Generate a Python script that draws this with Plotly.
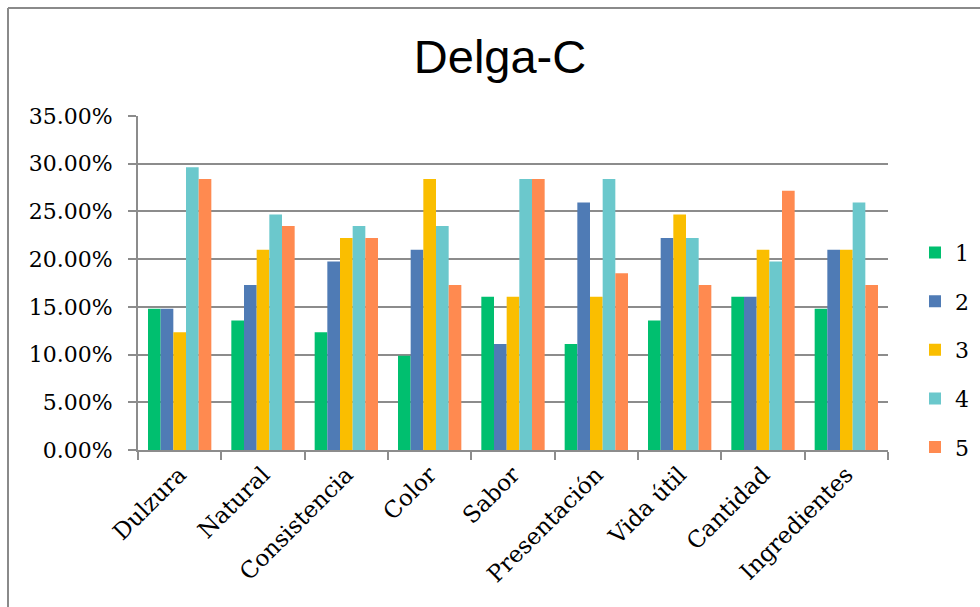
import plotly.graph_objects as go

categories = ["Dulzura", "Natural", "Consistencia", "Color", "Sabor",
              "Presentación", "Vida útil", "Cantidad", "Ingredientes"]
series_names = ["1", "2", "3", "4", "5"]

# shares of responses per rating (1-5) for each attribute
s1 = [0.1481, 0.1358, 0.1235, 0.0988, 0.1605, 0.1111, 0.1358, 0.1605, 0.1481]
s2 = [0.1481, 0.1728, 0.1975, 0.2099, 0.1111, 0.2593, 0.2222, 0.1605, 0.2099]
s3 = [0.1235, 0.2099, 0.2222, 0.2840, 0.1605, 0.1605, 0.2469, 0.2099, 0.2099]
s4 = [0.2963, 0.2469, 0.2346, 0.2346, 0.2840, 0.2840, 0.2222, 0.1975, 0.2593]
s5 = [0.2840, 0.2346, 0.2222, 0.1728, 0.2840, 0.1852, 0.1728, 0.2716, 0.1728]
series_values = [s1, s2, s3, s4, s5]
colors = ["#00BF6F", "#4F7BB5", "#FABE00", "#6BC8CC", "#FF8A50"]
y_ticks = [0, 0.05, 0.10, 0.15, 0.20, 0.25, 0.30, 0.35]

serif = "DejaVu Serif"
grid = "#8c8c8c"

fig = go.Figure()
for name, vals, col in zip(series_names, series_values, colors):
    fig.add_trace(go.Bar(
        x=categories, y=vals, name=name, legendgroup=name,
        marker=dict(color=col, line=dict(width=0)),
    ))

W, H = 980, 607
ml, mr, mt, mb = 138, 92, 116, 157
pw, ph = W - ml - mr, H - mt - mb

fig.update_layout(
    width=W, height=H,
    margin=dict(l=ml, r=mr, t=mt, b=mb, autoexpand=False),
    paper_bgcolor="white", plot_bgcolor="white",
    barmode="group", bargap=0.24, bargroupgap=0,
    title=dict(text="Delga-C", x=500 / W, xanchor="center", xref="container",
               y=1 - 57 / H, yanchor="middle",
               font=dict(family="Liberation Sans", size=47, color="black")),
    font=dict(family=serif, size=21, color="black"),
    legend=dict(x=1 + 27 / pw, xanchor="left", y=0.30, yanchor="middle",
                font=dict(family=serif, size=22, color="black"),
                tracegroupgap=17, itemwidth=30, bgcolor="rgba(0,0,0,0)"),
    xaxis=dict(showgrid=False, showline=True, linecolor=grid, linewidth=2,
               ticks="outside", ticklen=8, tickcolor=grid, tickwidth=2,
               tickson="boundaries", tickangle=-45,
               tickfont=dict(family=serif, size=23)),
    yaxis=dict(range=[0, 0.35], tickvals=y_ticks, tickformat=".2%",
               showgrid=True, gridcolor=grid, gridwidth=2,
               showline=True, linecolor=grid, linewidth=2,
               ticks="outside", ticklen=8, tickcolor=grid, tickwidth=2,
               ticklabelstandoff=11,
               zeroline=False, tickfont=dict(family=serif, size=22)),
    shapes=[
        dict(type="line", xref="paper", yref="paper",
             x0=(8 - ml) / pw, x1=(8 - ml) / pw, y0=(H - mb - 8) / ph + 0.0,
             y1=-(mb + 5) / ph, line=dict(color="#8a8a8a", width=2)),
        dict(type="line", xref="paper", yref="paper",
             x0=(8 - ml) / pw, x1=(W - ml + 5) / pw,
             y0=1 + (mt - 8) / ph, y1=1 + (mt - 8) / ph,
             line=dict(color="#8a8a8a", width=2)),
    ],
)

fig.write_html("out.html")
